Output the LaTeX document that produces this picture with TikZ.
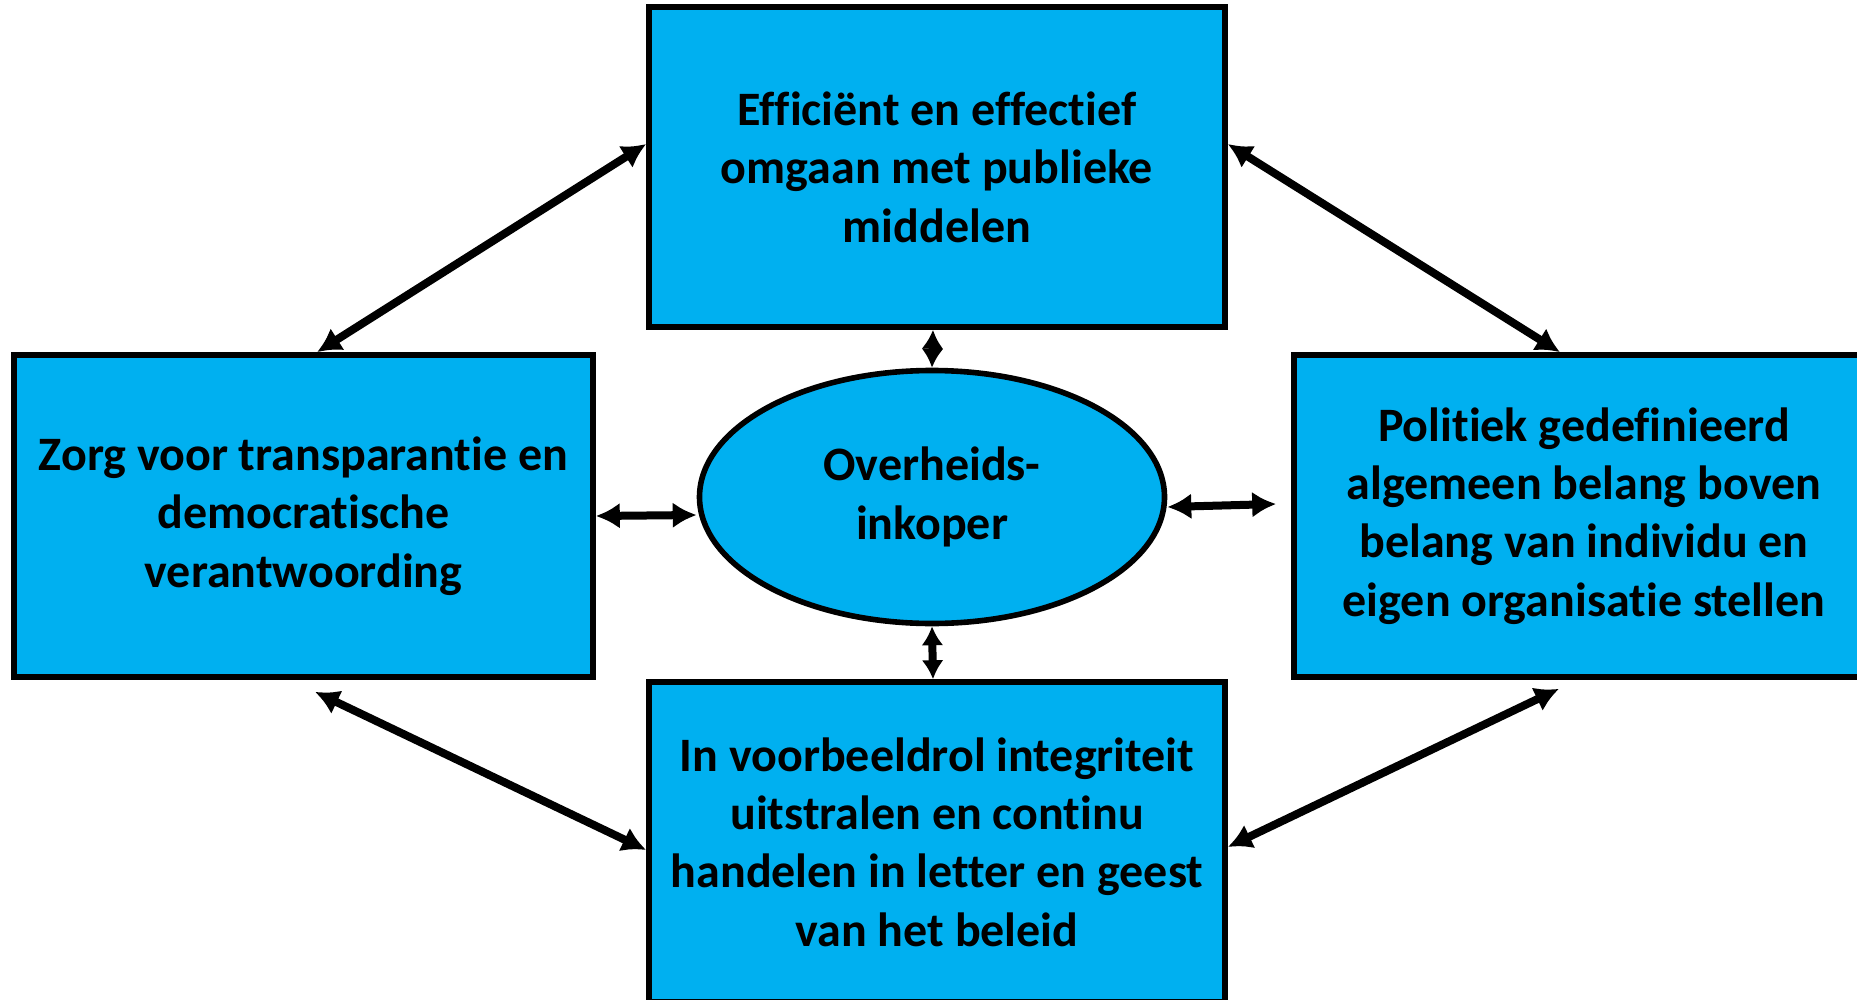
\documentclass[tikz,border=0pt]{standalone}
\usepackage{fontspec}
\setmainfont{Carlito}[Ligatures=NoCommon]
\usetikzlibrary{arrows.meta,shapes.geometric}
\definecolor{boxblue}{HTML}{00B0F0}

\begin{document}
\begin{tikzpicture}[x=0.5pt, y=-0.5pt, >={Latex[length=12pt,width=13pt]},
  default/.style={draw=black, line width=2.8pt, solid, fill=boxblue, align=center,
    inner sep=0pt, font=\bfseries\fontsize{24}{29.2}\selectfont},
  link/.style={<->, line width=4pt},
  shortlink/.style={link, >={Latex[length=9.5pt,width=11pt]}}]
\useasboundingbox (0,0) rectangle (1857,1000);
\clip (0,0) rectangle (1857,1000);
\node[default, rectangle, minimum width=288pt, minimum height=160pt] (EFF) at (937,167) {Efficiënt en effectief\\omgaan met publieke\\middelen};
\node[default, rectangle, minimum width=289.5pt, minimum height=161pt] (TRA) at (303.5,516) {Zorg voor transparantie en\\democratische\\verantwoording};
\node[default, rectangle, minimum width=290pt, minimum height=161pt] (POL) at (1584,516) {Politiek gedefinieerd\\algemeen belang boven\\belang van individu en\\eigen organisatie stellen};
\node[default, rectangle, minimum width=288pt, minimum height=160pt] (INT) at (937,842) {In voorbeeldrol integriteit\\uitstralen en continu\\handelen in letter en geest\\van het beleid};
\node[default, ellipse, minimum width=232.5pt, minimum height=126.5pt] (OVH) at (932,497) {Overheids-\\inkoper};
\draw [link] ([xshift=6.75pt]TRA.north) -- ([yshift=11.5pt]EFF.west) ;
\draw [link] ([yshift=11.5pt]EFF.east) -- ([xshift=-12pt]POL.north) ;
\draw [link] ([xshift=5.75pt, yshift=-6pt]TRA.south) -- ([yshift=-4pt]EFF.west |- INT.west) ;
\draw [link] ([xshift=-12.5pt, yshift=-4.5pt]POL.south) -- ([yshift=-2.5pt]INT.east) ;
\draw [link] (TRA.east) -- ([yshift=-9pt]OVH.west) ;
\draw [link] ([yshift=-5pt]OVH.east) -- ([xshift=-7.5pt, yshift=6pt]POL.west) ;
\draw [shortlink] ([xshift=-2pt]EFF.south) -- (OVH.north) ;
\draw [shortlink] (OVH.south) -- ([xshift=-2pt]INT.north) ;
\end{tikzpicture}
\end{document}
